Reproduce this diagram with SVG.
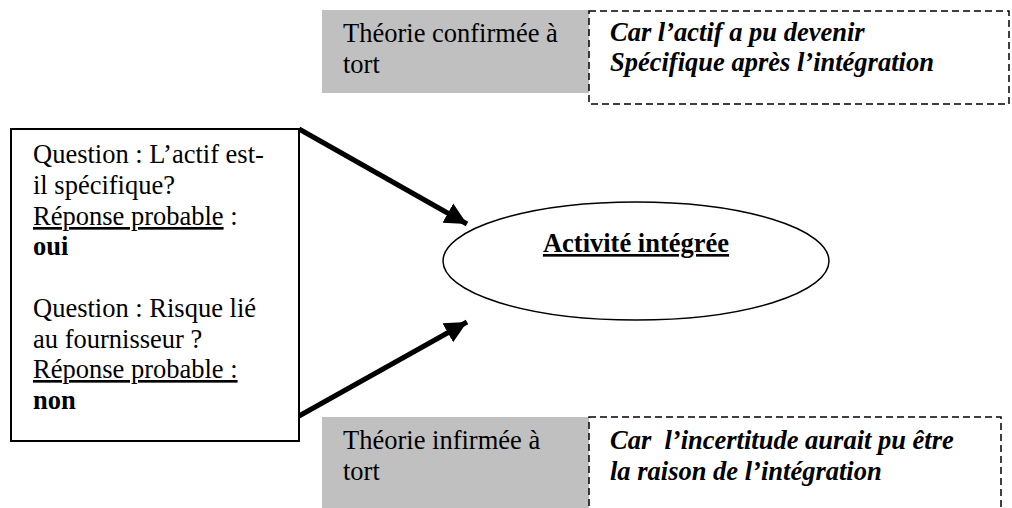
<svg xmlns="http://www.w3.org/2000/svg" width="1012" height="508" viewBox="0 0 1012 508">
<style>
text{font-family:"Liberation Serif","Times New Roman",serif;font-size:26.5px;fill:#000}
.b{font-weight:bold}
.bi{font-weight:bold;font-style:italic}
.u{text-decoration:underline}
.gray{fill:#c0c0c0;stroke:none}
.dash{fill:none;stroke:#000;stroke-width:1.5;stroke-dasharray:7 4}
.box{fill:#fff;stroke:#000;stroke-width:2}
.conn{stroke:#000;stroke-width:5;fill:none}
</style>
<defs>
<marker id="ah" markerUnits="userSpaceOnUse" markerWidth="26" markerHeight="24" refX="22" refY="12" orient="auto">
<path d="M0,1 L22,12 L0,23 Z" fill="#000"/>
</marker>
</defs>
<g id="connectors">
<line class="conn" x1="299" y1="129" x2="467" y2="224" marker-end="url(#ah)"/>
<line class="conn" x1="299" y1="416" x2="467" y2="322" marker-end="url(#ah)"/>
</g>
<g id="left-box">
<rect class="box" x="11" y="129" width="288" height="312"/>
<text x="33" y="163">Question : L’actif est-</text>
<text x="33" y="194">il spécifique?</text>
<text x="33" y="225"><tspan class="u">Réponse probable</tspan> :</text>
<text x="33" y="255" class="b">oui</text>
<text x="33" y="317">Question : Risque lié</text>
<text x="33" y="348">au fournisseur ?</text>
<text x="33" y="378" class="u">Réponse probable :</text>
<text x="33" y="409" class="b">non</text>
</g>
<g id="center-node">
<ellipse cx="636" cy="261" rx="193" ry="59" fill="#fff" stroke="#000" stroke-width="1.5"/>
<text x="636" y="252" text-anchor="middle" class="b u">Activité intégrée</text>
</g>
<g id="top-gray">
<rect class="gray" x="322" y="10" width="267" height="83"/>
<text x="343" y="42">Théorie confirmée à</text>
<text x="343" y="73">tort</text>
</g>
<g id="top-dashed">
<rect class="dash" x="589" y="11" width="420" height="93"/>
<text x="610" y="41" class="bi">Car l’actif a pu devenir</text>
<text x="610" y="71" class="bi">Spécifique après l’intégration</text>
</g>
<g id="bottom-gray">
<rect class="gray" x="322" y="417" width="267" height="95"/>
<text x="343" y="449">Théorie infirmée à</text>
<text x="343" y="480">tort</text>
</g>
<g id="bottom-dashed">
<rect class="dash" x="589" y="417" width="412" height="100"/>
<text x="610" y="449" class="bi" style="white-space:pre">Car  l’incertitude aurait pu être</text>
<text x="610" y="480" class="bi">la raison de l’intégration</text>
</g>
</svg>
